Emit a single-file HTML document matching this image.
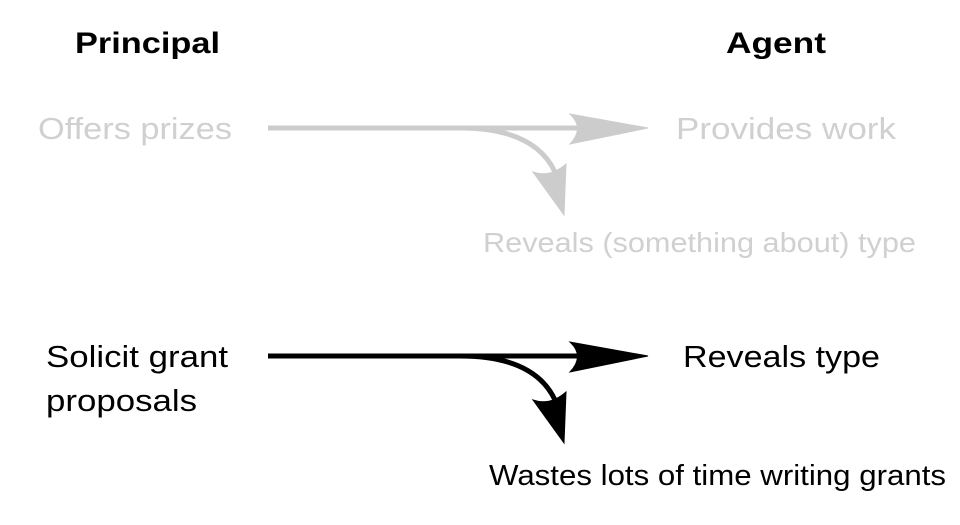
<!DOCTYPE html>
<html><head><style>
body{margin:0;width:960px;height:520px;background:#fff;overflow:hidden;font-family:"Liberation Sans",Helvetica,Arial,sans-serif}
</style></head><body>
<svg width="960" height="520" viewBox="0 0 960 520" xmlns="http://www.w3.org/2000/svg" font-family="Liberation Sans, Helvetica, Arial, sans-serif">
<g fill="#000" font-weight="bold" font-size="30">
<text x="75" y="53" textLength="145" lengthAdjust="spacingAndGlyphs">Principal</text>
<text x="726" y="53" textLength="100" lengthAdjust="spacingAndGlyphs">Agent</text>
</g>
<g fill="#d0d0d0" font-size="31">
<text x="38" y="139" textLength="194" lengthAdjust="spacingAndGlyphs">Offers prizes</text>
<text x="676" y="139" textLength="220" lengthAdjust="spacingAndGlyphs">Provides work</text>
<text x="483" y="252" font-size="28" textLength="433" lengthAdjust="spacingAndGlyphs">Reveals (something about) type</text>
</g>
<g stroke="#cccccc" fill="#cccccc">
<path d="M268 128 H600" stroke-width="5" fill="none"/>
<path d="M460 128 C505 128 540 140 555 172" stroke-width="5" fill="none"/>
<path d="M648 128 L570 114 Q585 128 570 144 Z" stroke-width="1"/>
<path d="M564 215 L533 172 Q550 178 566 164 Z" stroke-width="1"/>
</g>
<g stroke="#000" fill="#000">
<path d="M268 356 H600" stroke-width="5" fill="none"/>
<path d="M460 356 C505 356 540 368 555 400" stroke-width="5" fill="none"/>
<path d="M648 356 L570 342 Q585 356 570 372 Z" stroke-width="1"/>
<path d="M564 443 L533 400 Q550 406 566 392 Z" stroke-width="1"/>
</g>
<g fill="#000" font-size="31">
<text x="46" y="367" textLength="182" lengthAdjust="spacingAndGlyphs">Solicit grant</text>
<text x="46" y="411" textLength="151" lengthAdjust="spacingAndGlyphs">proposals</text>
<text x="683" y="367" textLength="197" lengthAdjust="spacingAndGlyphs">Reveals type</text>
<text x="489" y="485" font-size="29" textLength="457" lengthAdjust="spacingAndGlyphs">Wastes lots of time writing grants</text>
</g>
</svg>
</body></html>
